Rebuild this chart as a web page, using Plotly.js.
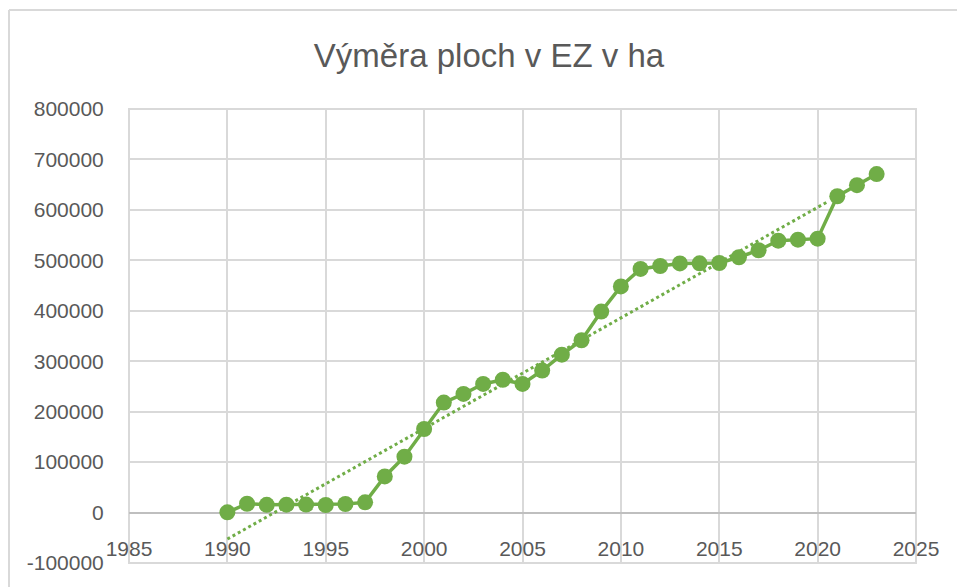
<!DOCTYPE html>
<html>
<head>
<meta charset="utf-8">
<script src="https://cdn.plot.ly/plotly-3.0.1.min.js"></script>
<style>html,body{margin:0;padding:0;background:#fff;}#chart{width:957px;height:587px;}</style>
</head>
<body>
<div id="chart"></div>
<script>
const years = [1990,1991,1992,1993,1994,1995,1996,1997,1998,1999,2000,2001,2002,2003,2004,2005,2006,2007,2008,2009,2010,2011,2012,2013,2014,2015,2016,2017,2018,2019,2020,2021,2022,2023];
const areaHa = [480,17500,15400,15700,15800,15000,17000,20200,71600,110800,165700,218100,235100,255000,263300,255000,281500,312900,341600,398400,448200,482900,488700,493900,494000,494700,506100,520000,538900,541000,543000,627000,649000,671000];
const trendX = [1990, 2020.5];
const trendY = [-52500, 616000];
const xTicks = [1985,1990,1995,2000,2005,2010,2015,2020,2025];
const yTicks = [-100000,0,100000,200000,300000,400000,500000,600000,700000,800000];

const green = '#70AD47';
const textCol = '#595959';
const fontFam = 'Liberation Sans, Arial, sans-serif';

const traces = [
  {x: trendX, y: trendY, type: 'scatter', mode: 'lines',
   line: {color: green, width: 3, dash: 'dot'}, hoverinfo: 'skip', showlegend: false},
  {x: years, y: areaHa, type: 'scatter', mode: 'lines+markers',
   line: {color: green, width: 3.5}, marker: {color: green, size: 16},
   showlegend: false}
];

const L = 129, R = 916, T = 109, B = 563.5, W = 957, H = 587;
const pw = R - L, ph = B - T;
const px = v => (v - L) / pw;
const py = v => (B - v) / ph;

const layout = {
  width: W, height: H,
  margin: {l: L, r: W - R, t: T, b: H - B, pad: 0},
  paper_bgcolor: '#ffffff', plot_bgcolor: '#ffffff',
  showlegend: false,
  title: {text: 'Výměra ploch v EZ v ha', font: {family: fontFam, size: 33, color: textCol},
          x: 0.511, xanchor: 'center', y: 1 - 55/H, yanchor: 'middle'},
  xaxis: {range: [1985, 2025], tickvals: xTicks, ticktext: xTicks.map(String),
          showgrid: true, gridcolor: '#d9d9d9', gridwidth: 2,
          zeroline: false, showline: false,
          anchor: 'free', position: 1/9,
          ticks: 'outside', ticklen: 17, tickcolor: 'rgba(0,0,0,0)',
          tickfont: {family: fontFam, size: 21, color: textCol}},
  yaxis: {range: [-100000, 800000], tickvals: yTicks, ticktext: yTicks.map(String),
          showgrid: true, gridcolor: '#d9d9d9', gridwidth: 2,
          zeroline: true, zerolinecolor: '#bfbfbf', zerolinewidth: 2,
          showline: false,
          ticks: 'outside', ticklen: 20, tickcolor: 'rgba(0,0,0,0)',
          tickfont: {family: fontFam, size: 21, color: textCol}},
  shapes: [
    {type: 'rect', xref: 'paper', yref: 'paper', x0: 0, x1: 1, y0: 0, y1: 1,
     line: {color: '#d9d9d9', width: 2}, layer: 'below'},
    {type: 'line', xref: 'paper', yref: 'paper', x0: px(9), x1: px(9), y0: py(10), y1: py(600),
     line: {color: '#d9d9d9', width: 2}},
    {type: 'line', xref: 'paper', yref: 'paper', x0: px(9), x1: px(960), y0: py(10), y1: py(10),
     line: {color: '#d9d9d9', width: 2}}
  ]
};

Plotly.newPlot('chart', traces, layout, {displayModeBar: false, staticPlot: true});
</script>
</body>
</html>
